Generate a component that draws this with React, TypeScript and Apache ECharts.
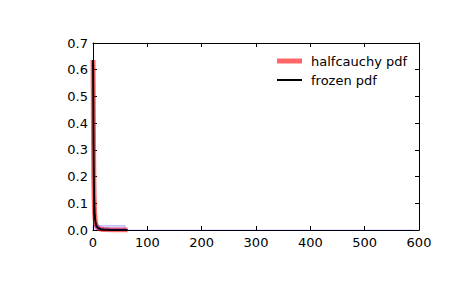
import React, { useEffect, useRef } from "react";
import * as echarts from "echarts";

const pdfX = [0.016, 0.25, 0.5, 0.75, 1, 1.5, 2, 2.5, 3, 4, 5, 7, 10, 15, 20, 30, 40, 50, 63.7];
const pdfY = [0.636, 0.599, 0.509, 0.407, 0.318, 0.196, 0.127, 0.088, 0.064, 0.037, 0.024, 0.0127, 0.0063, 0.0028, 0.0016, 0.0007, 0.0004, 0.00025, 0.00016];
const histEdges = [0, 59, 118, 177, 236, 295, 354, 413, 472, 531, 590];
const histHeights = [0.0166, 0.00005, 0.00003, 0, 0, 0, 0, 0, 0, 0.000017];
const xTicks = [0, 100, 200, 300, 400, 500, 600];
const yTicks = [0, 0.1, 0.2, 0.3, 0.4, 0.5, 0.6, 0.7];
const legendNames = ["halfcauchy pdf", "frozen pdf"];

const FONT = "DejaVu Sans";

export default function App() {
  const ref = useRef<HTMLDivElement>(null);
  useEffect(() => {
    document.body.style.margin = "0";
    const chart = echarts.init(ref.current!, null, { renderer: "svg" });
    const pdfData = pdfX.map((x, i) => [x, pdfY[i]]);
    const histData: number[][] = [[histEdges[0], 0]];
    histHeights.forEach((h, i) => {
      histData.push([histEdges[i], h]);
      histData.push([histEdges[i + 1], h]);
    });
    histData.push([histEdges[histEdges.length - 1], 0]);

    const tickCommon = {
      show: true,
      inside: true,
      length: 4,
      lineStyle: { color: "#000", width: 1 },
    };
    const lineCommon = { show: true, lineStyle: { color: "#000", width: 1 } };
    const labelCommon = { color: "#000", fontSize: 13, fontFamily: FONT };

    chart.setOption({
      animation: false,
      backgroundColor: "#fff",
      grid: { left: 93, top: 43, width: 326, height: 187, containLabel: false },
      xAxis: [
        {
          type: "value",
          min: xTicks[0],
          max: xTicks[xTicks.length - 1],
          interval: 100,
          axisLine: { ...lineCommon, onZero: false },
          axisTick: tickCommon,
          axisLabel: { ...labelCommon, margin: 6 },
          splitLine: { show: false },
        },
        {
          type: "value",
          position: "top",
          min: xTicks[0],
          max: xTicks[xTicks.length - 1],
          interval: 100,
          axisLine: { ...lineCommon, onZero: false },
          axisTick: tickCommon,
          axisLabel: { show: false },
          splitLine: { show: false },
        },
      ],
      yAxis: [
        {
          type: "value",
          min: yTicks[0],
          max: yTicks[yTicks.length - 1],
          interval: 0.1,
          axisLine: { ...lineCommon, onZero: false },
          axisTick: tickCommon,
          axisLabel: { ...labelCommon, margin: 5, formatter: (v: number) => v.toFixed(1) },
          splitLine: { show: false },
        },
        {
          type: "value",
          position: "right",
          min: yTicks[0],
          max: yTicks[yTicks.length - 1],
          interval: 0.1,
          axisLine: { ...lineCommon, onZero: false },
          axisTick: tickCommon,
          axisLabel: { show: false },
          splitLine: { show: false },
        },
      ],
      series: [
        {
          name: legendNames[0],
          type: "line",
          data: pdfData,
          showSymbol: false,
          lineStyle: { color: "rgba(255,0,0,0.6)", width: 5 },
          z: 2,
        },
        {
          name: legendNames[1],
          type: "line",
          data: pdfData,
          showSymbol: false,
          lineStyle: { color: "#000", width: 2 },
          z: 3,
        },
        {
          name: "hist",
          type: "line",
          data: histData,
          showSymbol: false,
          lineStyle: { color: "rgba(0,0,255,0.2)", width: 1 },
          areaStyle: { color: "rgba(0,0,255,0.2)", origin: 0 },
          z: 4,
        },
      ],
      graphic: [
        { type: "line", shape: { x1: 277, y1: 61, x2: 302, y2: 61 }, style: { stroke: "rgba(255,0,0,0.6)", lineWidth: 5 } },
        { type: "text", x: 311, y: 61, style: { text: legendNames[0], fill: "#000", fontSize: 13, fontFamily: FONT, verticalAlign: "middle" } },
        { type: "line", shape: { x1: 277, y1: 80, x2: 302, y2: 80 }, style: { stroke: "#000", lineWidth: 2 } },
        { type: "text", x: 311, y: 80, style: { text: legendNames[1], fill: "#000", fontSize: 13, fontFamily: FONT, verticalAlign: "middle" } },
      ],
    });
    return () => chart.dispose();
  }, []);
  return <div ref={ref} style={{ width: 465, height: 288 }} />;
}
